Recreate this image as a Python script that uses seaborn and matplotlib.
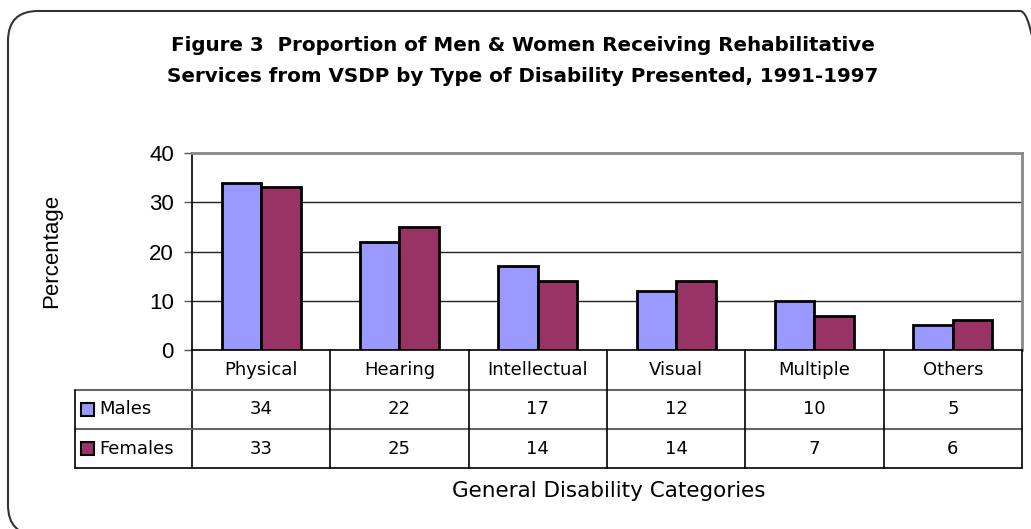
import matplotlib
matplotlib.use("Agg")
import matplotlib.pyplot as plt
import seaborn as sns
import pandas as pd
from matplotlib.patches import FancyBboxPatch, Rectangle
from matplotlib.lines import Line2D
import matplotlib.transforms as mtrans

categories = ["Physical", "Hearing", "Intellectual", "Visual", "Multiple", "Others"]
series_names = ["Males", "Females"]
males = [34, 22, 17, 12, 10, 5]
females = [33, 25, 14, 14, 7, 6]
colors = ["#9999FF", "#993366"]
yticks = [0, 10, 20, 30, 40]

title = "Figure 3  Proportion of Men & Women Receiving Rehabilitative\nServices from VSDP by Type of Disability Presented, 1991-1997"
ylabel = "Percentage"
xlabel = "General Disability Categories"

df = pd.DataFrame({
    "Category": categories * 2,
    "Value": males + females,
    "Series": [series_names[0]] * len(categories) + [series_names[1]] * len(categories),
})

sns.set_style("white")
plt.rcParams["font.family"] = ["DejaVu Sans"]
plt.rcParams["text.color"] = "black"
plt.rcParams["ytick.color"] = "#555555"
plt.rcParams["ytick.labelcolor"] = "black"
ARIAL = ["Liberation Sans", "DejaVu Sans"]
TXT = ["DejaVu Sans"]

W, H = 1031, 529
fig = plt.figure(figsize=(W / 100, H / 100), dpi=100)

def fx(px):
    return px / W

def fy(py):
    return 1 - py / H

left_px, right_px, top_px, bottom_px = 192, 1022, 153, 350
ax = fig.add_axes([fx(left_px), fy(bottom_px), fx(right_px) - fx(left_px), fy(top_px) - fy(bottom_px)])

sns.barplot(data=df, x="Category", y="Value", hue="Series", order=categories,
            hue_order=series_names, palette=colors, width=0.57, gap=0,
            edgecolor="black", linewidth=2.0, saturation=1, legend=False, ax=ax, zorder=3)

ax.set_xlim(-0.5, len(categories) - 0.5)
ax.set_ylim(0, 40)
ax.set_yticks(yticks)
ax.set_yticklabels([str(t) for t in yticks], family=ARIAL, fontsize=16, color="black")
ax.set_xticks([])
ax.set_xlabel("")
ax.set_ylabel("")
for t in yticks[1:4]:
    ax.axhline(t, color="#222222", linewidth=1.0, zorder=1)
ax.tick_params(axis="y", direction="out", length=6, width=1, color="#555555", pad=7, left=True)
ax.spines["left"].set_color("black")
ax.spines["left"].set_linewidth(1.2)
ax.spines["bottom"].set_color("black")
ax.spines["bottom"].set_linewidth(1.2)
ax.spines["top"].set_color("#888888")
ax.spines["top"].set_linewidth(2)
ax.spines["right"].set_color("#888888")
ax.spines["right"].set_linewidth(2)

# rounded outer border (pixel coordinates)
border = FancyBboxPatch((8, H - 535), 1042, 524,
                        boxstyle="round,pad=0,rounding_size=30",
                        transform=mtrans.IdentityTransform(), fill=False, edgecolor="#333333",
                        linewidth=1.5, clip_on=False)
fig.patches.append(border)

# title
fig.text(fx(523), fy(61), title, ha="center", va="center", fontsize=14.3,
         fontweight="bold", linespacing=1.75, color="black", family=TXT)

# y label
fig.text(fx(52), fy(251), ylabel, rotation=90, ha="center", va="center",
         family=ARIAL, fontsize=16, color="black")

# data table
bt = mtrans.blended_transform_factory(ax.transData, fig.transFigure)
row_cat, row_m, row_f, row_end = 350, 390, 429, 468
n = len(categories)
x0, x1 = -0.5, n - 0.5
FS = 13

def hline(py, c="black", lw=1.2):
    fig.lines.append(Line2D([x0, x1], [fy(py), fy(py)], transform=bt, color=c, linewidth=lw))

hline(row_m, "#666666", 1.5)
hline(row_f, "#666666", 1.5)
hline(row_end, "black", 1.2)
for i in range(n + 1):
    fig.lines.append(Line2D([x0 + i, x0 + i], [fy(row_cat), fy(row_end)], transform=bt,
                            color="black", linewidth=1.2))

legend_left = 75
for py, c in [(row_m, "#666666"), (row_f, "#666666"), (row_end, "black")]:
    fig.lines.append(Line2D([fx(legend_left), fx(left_px)], [fy(py), fy(py)],
                            transform=fig.transFigure, color=c, linewidth=1.5 if c != "black" else 1.2))
fig.lines.append(Line2D([fx(legend_left), fx(legend_left)], [fy(row_m), fy(row_end)],
                        transform=fig.transFigure, color="black", linewidth=1.2))

for i, cat in enumerate(categories):
    fig.text(i, fy((row_cat + row_m) / 2), cat, transform=bt, ha="center", va="center", fontsize=FS, family=TXT, color="black")
    fig.text(i, fy((row_m + row_f) / 2), str(males[i]), transform=bt, ha="center", va="center", fontsize=FS, family=TXT, color="black")
    fig.text(i, fy((row_f + row_end) / 2), str(females[i]), transform=bt, ha="center", va="center", fontsize=FS, family=TXT, color="black")

for name, c, (a, b) in zip(series_names, colors, [(row_m, row_f), (row_f, row_end)]):
    cy = (a + b) / 2
    sq = 13
    fig.patches.append(Rectangle((fx(81), fy(cy + sq / 2)), fx(81 + sq) - fx(81), fy(cy - sq / 2) - fy(cy + sq / 2),
                                 transform=fig.transFigure, facecolor=c, edgecolor="black", linewidth=1.5))
    fig.text(fx(99), fy(cy), name, ha="left", va="center", fontsize=FS, family=TXT, color="black")

fig.text(fx(609), fy(491), xlabel, ha="center", va="center", fontsize=15.5, family=TXT, color="black")

fig.savefig("out.png", dpi=100)
